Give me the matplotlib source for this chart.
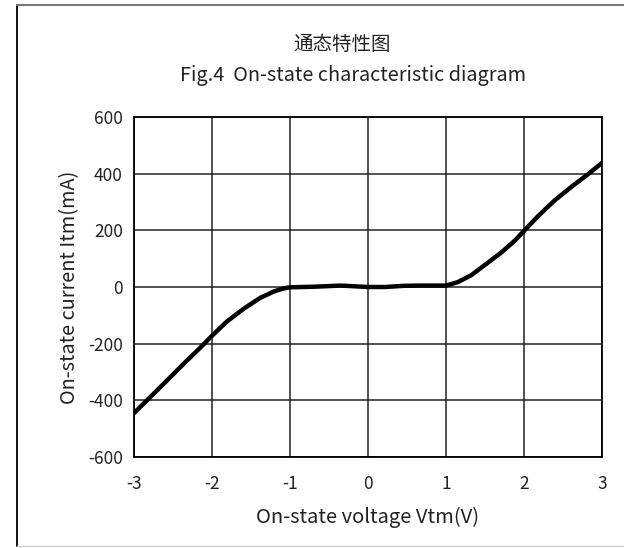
import numpy as np
import matplotlib.pyplot as plt
from matplotlib.lines import Line2D

plt.rcParams['font.family'] = ['Noto Sans CJK SC', 'DejaVu Sans']
plt.rcParams['axes.unicode_minus'] = False

# on-state curve
vtm = [-3.0, -2.79, -2.57, -2.36, -2.15, -2.0, -1.81, -1.59, -1.38, -1.20, -1.08, -1.0,
       -0.69, -0.35, 0.0, 0.22, 0.45, 0.65, 1.0, 1.15, 1.32, 1.49, 1.71, 1.88, 2.0,
       2.18, 2.39, 2.61, 2.82, 3.0]
itm = [-445, -388, -328, -270, -214, -172, -122, -76, -38, -15, -5, -1,
       1, 5, 0, 0, 4, 5, 5, 17, 41, 76, 122, 163, 198,
       250, 305, 354, 398, 438]

xticks = [-3, -2, -1, 0, 1, 2, 3]
yticks = [-600, -400, -200, 0, 200, 400, 600]

W, H = 624, 548
fig = plt.figure(figsize=(W / 100, H / 100), dpi=100)
ax = fig.add_axes([134 / W, 1 - 457 / H, (602 - 134) / W, (457 - 117) / H])

ax.plot(vtm, itm, color='black', lw=3.2, solid_capstyle='round', solid_joinstyle='round', zorder=3)

ax.set_xlim(-3, 3)
ax.set_ylim(-600, 600)
ax.set_xticks(xticks)
ax.set_yticks(yticks)
ax.grid(True, color='#222222', lw=1.1)
ax.tick_params(length=0, labelsize=12.5, pad=13, colors='#222222')
ax.tick_params(axis='y', pad=8)
for s in ax.spines.values():
    s.set_color('black')
    s.set_linewidth(1.3)

ax.set_xlabel('On-state voltage Vtm(V)', fontsize=14.5, color='#222222', labelpad=10)
ax.set_ylabel('On-state current Itm(mA)', fontsize=14.3, color='#222222', labelpad=6)

fig.text(342 / W, 1 - 44 / H, '通态特性图', fontsize=14, ha='center', va='center', color='#222222')
fig.text(353 / W, 1 - 75 / H, 'Fig.4  On-state characteristic diagram', fontsize=14.3,
         ha='center', va='center', color='#222222')

# outer frame of the original screenshot
fig.add_artist(Line2D([17 / W, 17 / W], [1 - 5 / H, 1 - 546 / H], color='black', lw=1.3))
fig.add_artist(Line2D([17 / W, 1], [1 - 5 / H, 1 - 5 / H], color='#777777', lw=1.5))
fig.add_artist(Line2D([17 / W, 1], [1 - 546 / H, 1 - 546 / H], color='#cccccc', lw=1.0))

fig.savefig('out.png', dpi=100)
